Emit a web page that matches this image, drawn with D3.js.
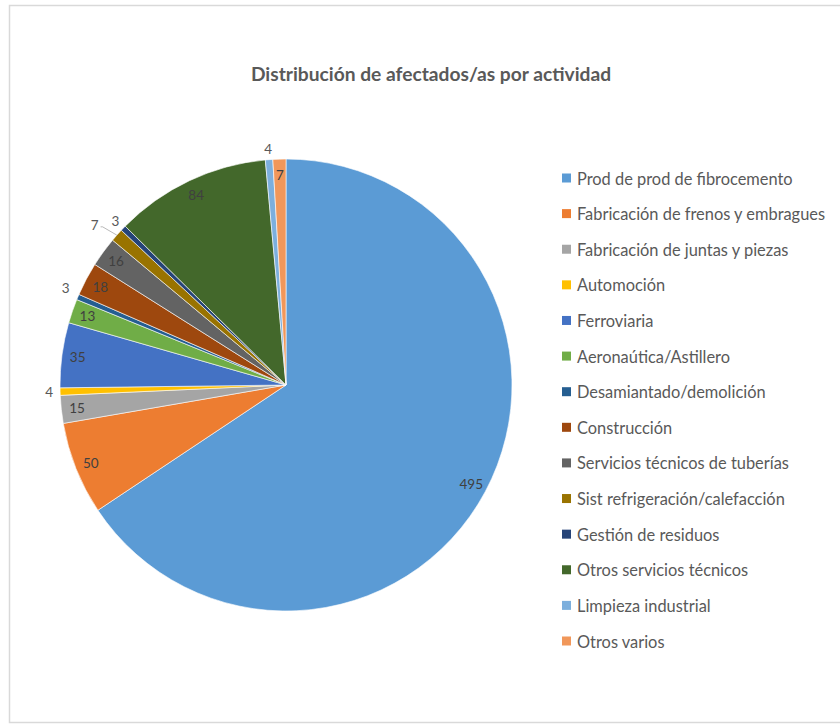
<!DOCTYPE html>
<html>
<head>
<meta charset="utf-8">
<script src="https://cdn.jsdelivr.net/npm/d3@7"></script>
<style>
  html, body { margin: 0; padding: 0; background: #fff; }
  svg { display: block; font-family: Lato, "Open Sans", sans-serif; }
</style>
</head>
<body>
<svg id="chart" width="840" height="724"></svg>
<script>
// Activity categories and number of people affected in each
const categories = [
  "Prod de prod de fibrocemento",
  "Fabricación de frenos y embragues",
  "Fabricación de juntas y piezas",
  "Automoción",
  "Ferroviaria",
  "Aeronaútica/Astillero",
  "Desamiantado/demolición",
  "Construcción",
  "Servicios técnicos de tuberías",
  "Sist refrigeración/calefacción",
  "Gestión de residuos",
  "Otros servicios técnicos",
  "Limpieza industrial",
  "Otros varios"
];
const values = [495, 50, 15, 4, 35, 13, 3, 18, 16, 7, 3, 84, 4, 7];
const colors = [
  "#5B9BD5", "#ED7D31", "#A5A5A5", "#FFC000", "#4472C4", "#70AD47", "#255E91",
  "#9E480E", "#636363", "#997300", "#264478", "#43682B", "#7CAFDD", "#F1975A"
];
const title = "Distribución de afectados/as por actividad";

const svg = d3.select("#chart");
const W = 840, H = 724;

// chart frame
svg.append("rect")
  .attr("x", 9.5).attr("y", 5.5)
  .attr("width", W).attr("height", 717)
  .attr("fill", "#fff").attr("stroke", "#d9d9d9").attr("stroke-width", 1.5);

svg.append("text")
  .attr("x", 431).attr("y", 81)
  .attr("text-anchor", "middle")
  .attr("font-size", 19.2).attr("font-weight", "bold")
  .attr("fill", "#595959")
  .text(title);

const cx = 286, cy = 385, R = 226;
const g = svg.append("g").attr("transform", `translate(${cx},${cy})`);

const pie = d3.pie().sort(null).value(d => d)(values);
const arc = d3.arc().innerRadius(0).outerRadius(R);

g.selectAll("path.slice")
  .data(pie)
  .join("path")
  .attr("class", "slice")
  .attr("d", arc)
  .attr("fill", (d, i) => colors[i])
  .attr("stroke", "#fff")
  .attr("stroke-width", 0.6);

// Data labels: inside near the rim, small slices just outside
const outside = new Set([3, 6, 9, 10, 12]);
const nudge = { 6: [-2, -5], 9: [-14, -3] };   // extra shifts for crowded labels
const mid = d => (d.startAngle + d.endAngle) / 2;
const labelPos = (d, i) => {
  const a = mid(d);
  const r = outside.has(i) ? R + 11 : R * 0.93;
  let x = Math.sin(a) * r, y = -Math.cos(a) * r;
  if (nudge[i]) { x += nudge[i][0]; y += nudge[i][1]; }
  return [x, y];
};

// leader line for the refrigeration slice
{
  const d = pie[9], a = mid(d);
  const [lx, ly] = labelPos(d, 9);
  const ex = Math.sin(a) * R, ey = -Math.cos(a) * R;
  g.append("path")
    .attr("d", `M${ex},${ey}L${lx + 8},${ly + 2}L${lx + 6},${ly + 2}`)
    .attr("fill", "none").attr("stroke", "#a6a6a6").attr("stroke-width", 0.8);
}

g.selectAll("text.lbl")
  .data(pie)
  .join("text")
  .attr("class", "lbl")
  .attr("x", (d, i) => labelPos(d, i)[0])
  .attr("y", (d, i) => labelPos(d, i)[1])
  .attr("text-anchor", "middle")
  .attr("dominant-baseline", "central")
  .attr("font-size", 13.5)
  .attr("fill", (d, i) => outside.has(i) ? "#595959" : "#404040")
  .text(d => d.data);

// Legend
const ly = d3.scalePoint().domain(d3.range(categories.length)).range([178, 641]);
const leg = svg.append("g");
const row = leg.selectAll("g").data(categories).join("g")
  .attr("transform", (d, i) => `translate(562,${ly(i)})`);
row.append("rect")
  .attr("x", 0).attr("y", -4.5).attr("width", 9).attr("height", 9)
  .attr("fill", (d, i) => colors[i]);
row.append("text")
  .attr("x", 15).attr("y", 0)
  .attr("dominant-baseline", "central")
  .attr("font-size", 16.4).attr("fill", "#595959")
  .text(d => d);
</script>
</body>
</html>
